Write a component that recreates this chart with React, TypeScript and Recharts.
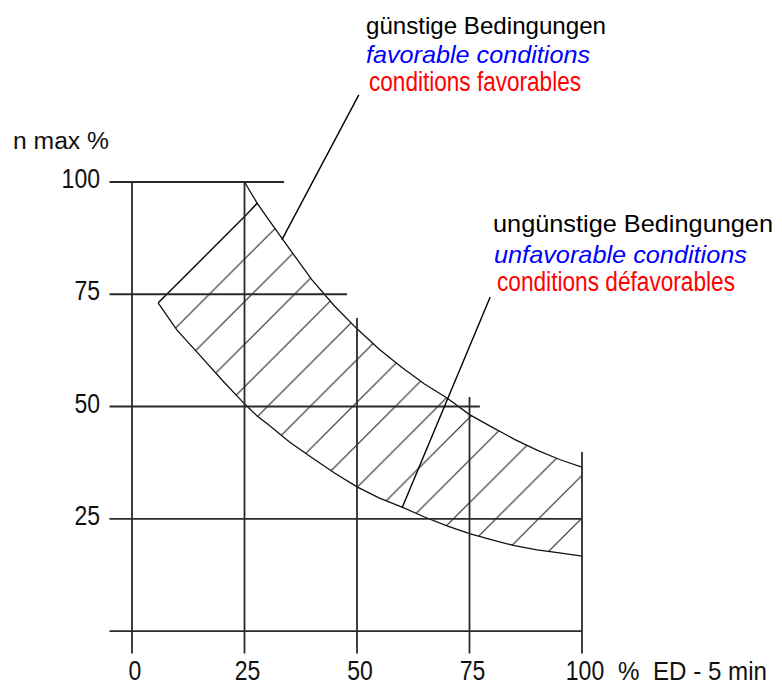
import React from 'react';
import {
  ComposedChart,
  XAxis,
  YAxis,
  Area,
  Line,
  ReferenceLine
} from 'recharts';

// band of permitted max. speed vs. duty cycle
const bandX = [5.8, 10, 15, 20, 25, 27.8, 30, 35, 40, 45, 50, 55, 60, 65, 70, 75, 80, 85, 90, 95, 100];
const bandHigh = [73.1, 77.3, 82.3, 87.3, 92.3, 95.3, 92.1, 85.1, 78.2, 72.4, 67.3, 62.7, 58.7, 55.0, 51.9, 48.2, 45.4, 42.7, 40.3, 38.2, 36.5];
const bandLow = [73.1, 67.0, 61.5, 55.9, 50.6, 47.9, 46.2, 42.1, 38.6, 35.2, 32.1, 29.6, 27.6, 25.4, 23.4, 21.7, 20.3, 19.0, 18.1, 17.4, 16.7];

// tip of the upper curve above the first hatch line
const tipX = [25, 27.8];
const tipY = [100, 95.3];

const xTicks = [0, 25, 50, 75, 100];
const yTicks = [25, 50, 75, 100];

// partial grid lines: value and where each one stops
const gridH = [
  { y: 100, end: 33.8 },
  { y: 75, end: 47.8 },
  { y: 50, end: 77.3 },
  { y: 25, end: 100 },
  { y: 0, end: 100 }
];
const gridV = [
  { x: 0, end: 100 },
  { x: 25, end: 100 },
  { x: 50, end: 69.7 },
  { x: 75, end: 52.1 },
  { x: 100, end: 39.9 }
];
const axisStart = -5;

// leader lines from the captions into the band
const leaders = [
  { x1: 50.4, y1: 119.4, x2: 33.3, y2: 87.1 },
  { x1: 79.6, y1: 74.4, x2: 60, y2: 27.4 }
];

const bandData = bandX.map((x, i) => ({ x, range: [bandLow[i], bandHigh[i]] }));
const tipData = tipX.map((x, i) => ({ x, y: tipY[i] }));

const NARROW = "'Liberation Sans Narrow', 'Arial Narrow', 'Liberation Sans', Arial, sans-serif";
const SANS = "'Liberation Sans', Arial, sans-serif";
const HATCH = 42.6;

const XTick = (props: any) => {
  const { x, y, payload } = props;
  const s = String(payload.value);
  return (
    <g>
      <text x={x + 3} y={y + 26} textAnchor="middle" fontFamily={NARROW} fontSize={27} fill="#111"
        textLength={s.length * 12.8} lengthAdjust="spacingAndGlyphs">{s}</text>
      {payload.value === 100 && (
        <text x={x + 36} y={y + 26} fontFamily={NARROW} fontSize={25} fill="#111"
          textLength={149} lengthAdjust="spacingAndGlyphs">% &#160;ED - 5 min</text>
      )}
    </g>
  );
};

const YTick = (props: any) => {
  const { x, y, payload } = props;
  const s = String(payload.value);
  return (
    <text x={x - 9.5} y={y + 6} textAnchor="end" fontFamily={NARROW} fontSize={28} fill="#111"
      textLength={s.length * 12.8} lengthAdjust="spacingAndGlyphs">{s}</text>
  );
};

const Captions = () => (
  <svg width={782} height={685} style={{ position: 'absolute', left: 0, top: 0, pointerEvents: 'none' }}>
    <text x={13} y={149} fontFamily={SANS} fontSize={23} fill="#111" textLength={96} lengthAdjust="spacingAndGlyphs">n max %</text>

    <text x={366} y={34} fontFamily={SANS} fontSize={24} fill="#000" textLength={240} lengthAdjust="spacingAndGlyphs">günstige Bedingungen</text>
    <text x={366} y={62.5} fontFamily={SANS} fontSize={24} fontStyle="italic" fill="#0000ff" textLength={224} lengthAdjust="spacingAndGlyphs">favorable conditions</text>
    <text x={369} y={90.5} fontFamily={NARROW} fontSize={27} fill="#ff0000" textLength={212} lengthAdjust="spacingAndGlyphs">conditions favorables</text>

    <text x={493} y={232} fontFamily={SANS} fontSize={24} fill="#000" textLength={280} lengthAdjust="spacingAndGlyphs">ungünstige Bedingungen</text>
    <text x={494} y={263} fontFamily={SANS} fontSize={24} fontStyle="italic" fill="#0000ff" textLength={253} lengthAdjust="spacingAndGlyphs">unfavorable conditions</text>
    <text x={497} y={291} fontFamily={NARROW} fontSize={27} fill="#ff0000" textLength={238} lengthAdjust="spacingAndGlyphs">conditions défavorables</text>
  </svg>
);

export default function App() {
  return (
    <div style={{ position: 'absolute', left: 0, top: 0, width: 782, height: 685, background: '#fff' }}>
      <ComposedChart
        width={782}
        height={685}
        data={bandData}
        margin={{ top: 182, right: 200, bottom: 0, left: 0 }}
      >
        <defs>
          <pattern id="hatch" patternUnits="userSpaceOnUse" x={35} y={0} width={HATCH} height={HATCH}>
            <path
              d={`M0,${HATCH} L${HATCH},0 M-2,2 L2,-2 M${HATCH - 2},${HATCH + 2} L${HATCH + 2},${HATCH - 2}`}
              stroke="#222"
              strokeWidth={1.1}
            />
          </pattern>
        </defs>
        <XAxis
          dataKey="x"
          type="number"
          domain={[axisStart, 100]}
          ticks={xTicks}
          allowDataOverflow
          axisLine={false}
          tickLine={false}
          tickSize={0}
          tickMargin={0}
          height={31.5}
          tick={<XTick />}
        />
        <YAxis
          type="number"
          domain={[axisStart, 100]}
          ticks={yTicks}
          allowDataOverflow
          axisLine={false}
          tickLine={false}
          tickSize={0}
          tickMargin={0}
          width={109.5}
          tick={<YTick />}
        />
        {gridH.map(g => (
          <ReferenceLine
            key={'h' + g.y}
            segment={[{ x: axisStart, y: g.y }, { x: g.end, y: g.y }]}
            stroke="#2a2a2a"
            strokeWidth={1.8}
            ifOverflow="visible"
          />
        ))}
        {gridV.map(g => (
          <ReferenceLine
            key={'v' + g.x}
            segment={[{ x: g.x, y: axisStart }, { x: g.x, y: g.end }]}
            stroke="#2a2a2a"
            strokeWidth={1.8}
            ifOverflow="visible"
          />
        ))}
        <Area
          dataKey="range"
          type="linear"
          fill="url(#hatch)"
          fillOpacity={1}
          stroke="#111"
          strokeWidth={1.3}
          dot={false}
          activeDot={false}
          isAnimationActive={false}
        />
        <Line
          data={tipData}
          dataKey="y"
          type="linear"
          stroke="#111"
          strokeWidth={1.3}
          dot={false}
          activeDot={false}
          isAnimationActive={false}
        />
        {leaders.map((l, i) => (
          <ReferenceLine
            key={'l' + i}
            segment={[{ x: l.x1, y: l.y1 }, { x: l.x2, y: l.y2 }]}
            stroke="#000"
            strokeWidth={1.4}
            ifOverflow="visible"
          />
        ))}
      </ComposedChart>
      <Captions />
    </div>
  );
}
